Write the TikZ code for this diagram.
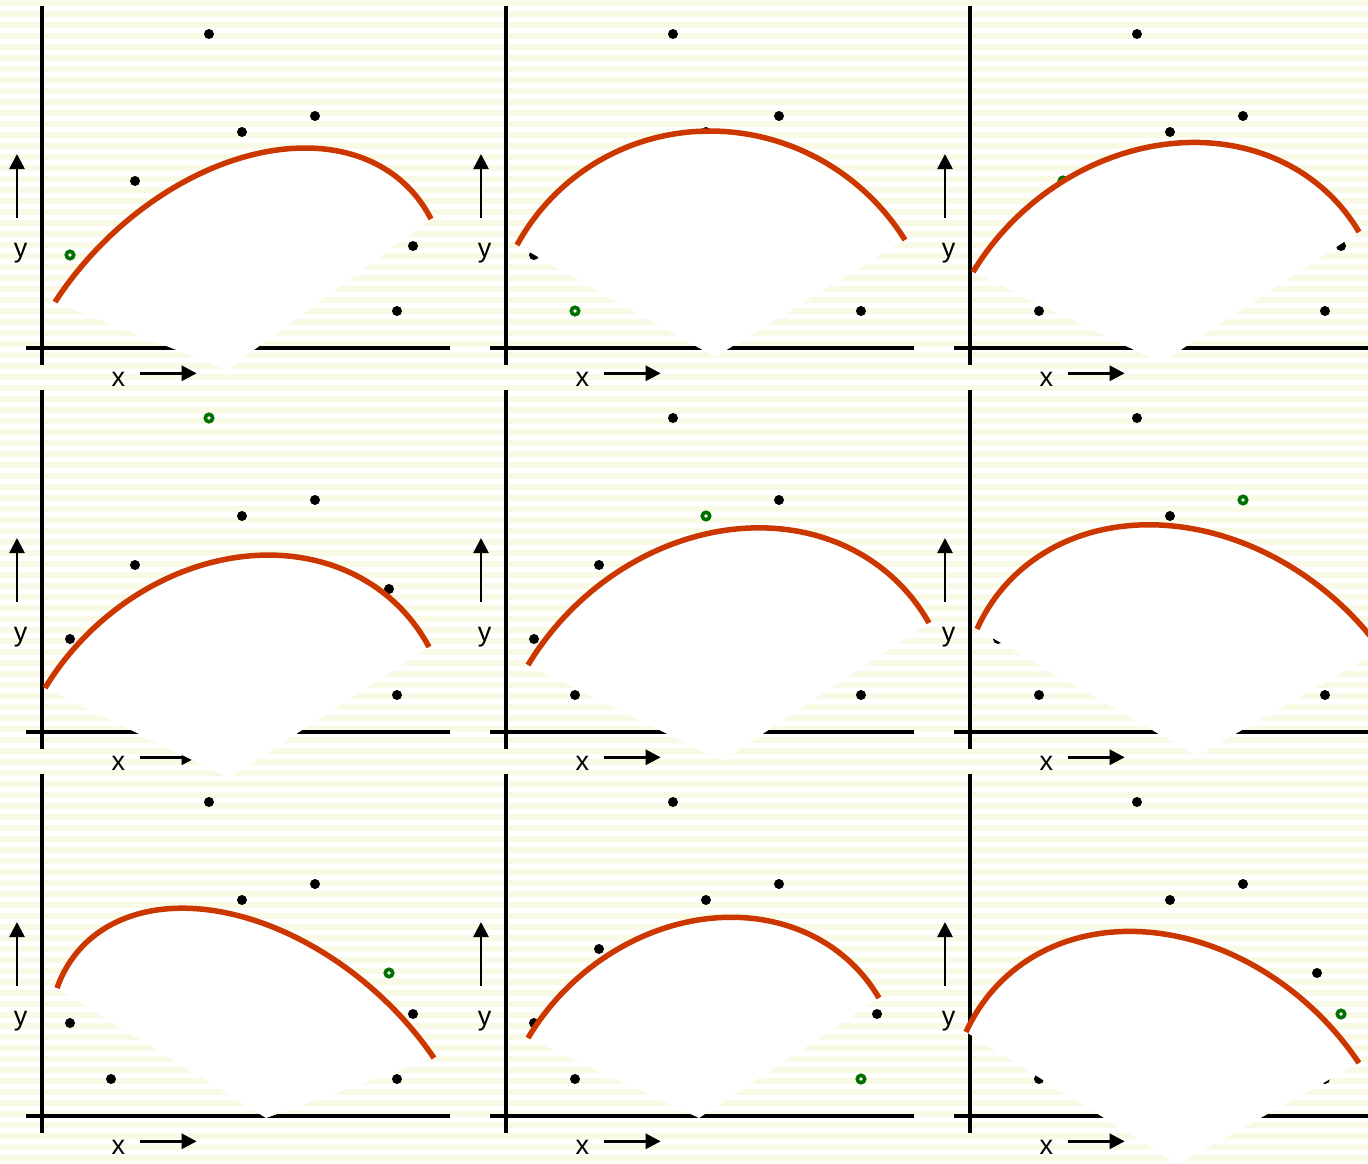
\documentclass[tikz,border=0pt]{standalone}
\usepackage{fontspec}
\setmainfont{Liberation Sans}
\usetikzlibrary{arrows.meta}
\definecolor{stripecol}{RGB}{248,250,229}
\definecolor{fitred}{RGB}{204,55,0}
\definecolor{ringgreen}{RGB}{0,112,0}
\tikzset{
  axisline/.style={line width=4pt, draw=black},
  axisarrow/.style={line width=2.6pt, draw=black, -{Triangle[length=15pt,width=15pt]}},
  axlabel/.style={inner sep=0pt, anchor=base, font=\fontsize{27}{30}\selectfont},
  datapt/.style={circle, fill=black, minimum size=10pt, inner sep=0pt},
  heldout/.style={circle, draw=ringgreen, fill=white, line width=3.6pt, minimum size=7.4pt, inner sep=0pt},
  fitcurve/.style={line width=5.5pt, draw=fitred},
  fanfill/.style={fill=white},
  stripe/.style={fill=stripecol},
}
\newcommand\datapoints{28/93,69/37,93/167,167/314,200/216,273/232,347/143,355/37,371/102}
% #1 id, #2 origin x, #3 origin y, #4 index of held-out point
\newcommand\panelbase[4]{%
  \begin{scope}[shift={(#2,#3)}]
    \draw[axisline] (0,-342) -- (0,17);
    \draw[axisline] (-16.3,0) -- (408,0);
    \draw[axisarrow] (-25,-130) -- (-25,-194);
    \draw[axisarrow] (98,25.3) -- (154.7,25.3);
    \node[axlabel] (ylab#1) at (-21.3,-90.7) {y};
    \node[axlabel] (xlab#1) at (76.3,38.7) {x};
    \foreach \px/\py [count=\i] in \datapoints {%
      \ifnum\i=#4\relax
        \node[heldout] (pt#1-\i) at (\px,-\py) {};
      \else
        \node[datapt] (pt#1-\i) at (\px,-\py) {};
      \fi
    }
  \end{scope}
}
% #1,#2 apex; #3,#4 ellipse centre; #5,#6 start; #7,#8 end; #9 sweep
\newcommand\fanarc[9]{%
  \fill[fanfill] (#1,#2) -- plot[domain=0:#9, samples=100, variable=\t]
    ({#3+((#5-#3)*sin(#9-\t)+(#7-#3)*sin(\t))/sin(#9)},
     {#4+((#6-#4)*sin(#9-\t)+(#8-#4)*sin(\t))/sin(#9)}) -- cycle;
  \draw[fitcurve] plot[domain=0:#9, samples=100, variable=\t]
    ({#3+((#5-#3)*sin(#9-\t)+(#7-#3)*sin(\t))/sin(#9)},
     {#4+((#6-#4)*sin(#9-\t)+(#8-#4)*sin(\t))/sin(#9)});
}
\begin{document}
\begin{tikzpicture}[x=1pt,y=-1pt]
\useasboundingbox (0,0) rectangle (1368,1164);
\clip (0,0) rectangle (1368,1164);
\fill[white] (0,0) rectangle (1368,1164);
\foreach \k in {0,...,105} {\fill[stripe] (0,\k*11) rectangle (1368,\k*11+6);}

\panelbase{a}{42}{348}{1}
\fanarc{227}{370}{227}{370}{55}{302}{431}{219}{119.3}
\panelbase{b}{506}{348}{2}
\fanarc{715}{357}{715}{357}{517}{245}{905}{240}{119.1}
\panelbase{c}{970}{348}{3}
\fanarc{1161}{363}{1161}{363}{973}{272}{1359}{232}{119.2}

\panelbase{d}{42}{732}{4}
\fanarc{229}{778}{229}{778}{45}{688}{429}{647}{120.2}
\panelbase{e}{506}{732}{5}
\fanarc{722}{761}{722}{761}{528}{665}{929}{623}{119.4}
\panelbase{f}{970}{732}{6}
\fanarc{1197}{756}{1197}{756}{977}{629}{1381}{650}{119.4}

\panelbase{g}{42}{1116}{7}
\fanarc{266}{1118}{266}{1118}{57}{988}{434}{1058}{125.1}
\panelbase{h}{506}{1116}{8}
\fanarc{699}{1118}{699}{1118}{528}{1038}{879}{998}{119.8}
\panelbase{i}{970}{1116}{9}
\fanarc{1178}{1164}{1178}{1164}{966}{1032}{1359}{1063}{119.7}
\end{tikzpicture}
\end{document}
